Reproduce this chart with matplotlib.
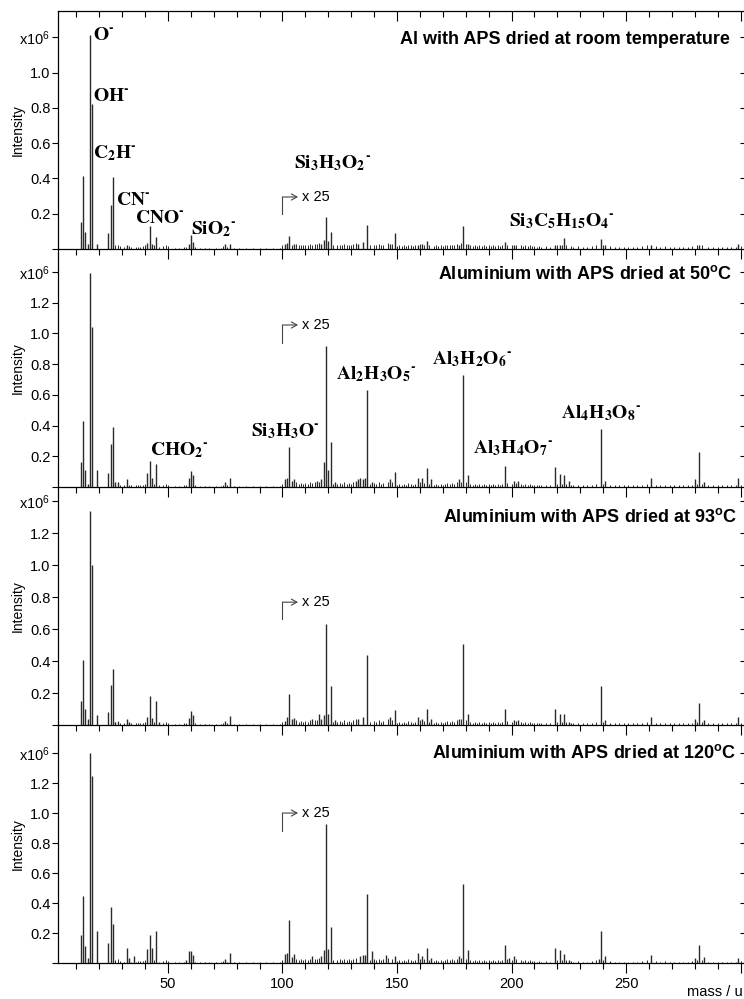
import matplotlib
matplotlib.use("Agg")
import matplotlib.pyplot as plt
from matplotlib.ticker import MultipleLocator, FuncFormatter

plt.rcParams['font.family'] = ['Liberation Sans', 'DejaVu Sans']
plt.rcParams['mathtext.fontset'] = 'custom'
plt.rcParams['mathtext.rm'] = 'Liberation Sans'
plt.rcParams['mathtext.bf'] = 'Liberation Sans:bold'
plt.rcParams['mathtext.it'] = 'Liberation Sans:italic'

# ---- data (intensity in units of 1e6, masses above 100 shown x25) ----
titles = ['Al with APS dried at room temperature',
          r'Aluminium with APS dried at 50$^{\mathbf{o}}$C',
          r'Aluminium with APS dried at 93$^{\mathbf{o}}$C',
          r'Aluminium with APS dried at 120$^{\mathbf{o}}$C']

p1_mass = [12, 13, 14, 15, 16, 17, 19, 24, 25, 26, 32, 41, 42, 43, 45, 59, 60, 61, 75, 77,
           101, 102, 103, 105, 117, 118, 119, 120, 121, 133, 135, 137, 147, 149, 159, 161,
           163, 177, 179, 181, 197, 201, 219, 221, 223, 239, 241, 261, 282, 299]
p1_int = [0.155, 0.415, 0.095, 0.03, 1.215, 0.82, 0.03, 0.09, 0.25, 0.41, 0.02, 0.035, 0.13,
          0.03, 0.07, 0.03, 0.08, 0.04, 0.03, 0.03,
          0.03, 0.035, 0.075, 0.03, 0.03, 0.05, 0.18, 0.045, 0.095, 0.03, 0.04, 0.135, 0.03,
          0.09, 0.025, 0.03, 0.045, 0.025, 0.13, 0.03, 0.04, 0.02, 0.02, 0.02, 0.065, 0.055,
          0.02, 0.02, 0.02, 0.03]

p2_mass = [12, 13, 14, 15, 16, 17, 19, 24, 25, 26, 27, 28, 32, 41, 42, 43, 45, 59, 60, 61,
           75, 77, 101, 102, 103, 104, 105, 115, 117, 118, 119, 120, 121, 123, 132, 133, 134,
           135, 136, 137, 139, 147, 149, 159, 161, 163, 165, 177, 179, 181, 197, 201, 203,
           219, 221, 223, 225, 239, 241, 261, 280, 282, 284, 299]
p2_int = [0.16, 0.43, 0.11, 0.02, 1.396, 1.044, 0.11, 0.09, 0.28, 0.39, 0.03, 0.03, 0.055,
          0.09, 0.17, 0.06, 0.15, 0.06, 0.105, 0.08,
          0.03, 0.06, 0.05, 0.06, 0.26, 0.04, 0.05, 0.04, 0.05, 0.16, 0.92, 0.11, 0.295, 0.03,
          0.04, 0.05, 0.06, 0.05, 0.06, 0.63, 0.03, 0.05, 0.10, 0.06, 0.06, 0.126, 0.05, 0.05,
          0.73, 0.08, 0.14, 0.04, 0.04, 0.13, 0.085, 0.08, 0.04, 0.375, 0.04, 0.06, 0.05,
          0.225, 0.03, 0.06]

p3_mass = [12, 13, 14, 15, 16, 17, 19, 24, 25, 26, 27, 28, 32, 33, 41, 42, 43, 45, 46, 59,
           60, 61, 75, 77, 101, 102, 103, 104, 105, 113, 116, 117, 118, 119, 120, 121, 123,
           133, 135, 137, 147, 149, 159, 161, 163, 165, 177, 179, 181, 197, 201, 203, 219,
           221, 223, 225, 239, 241, 261, 280, 282, 284, 299]
p3_int = [0.15, 0.41, 0.10, 0.04, 1.34, 1.0, 0.06, 0.083, 0.25, 0.35, 0.02, 0.02, 0.04,
          0.02, 0.05, 0.18, 0.045, 0.15, 0.02, 0.045,
          0.09, 0.06, 0.025, 0.055, 0.025, 0.05, 0.195, 0.04, 0.045, 0.04, 0.07, 0.04, 0.06,
          0.635, 0.07, 0.245, 0.03, 0.04, 0.05, 0.44, 0.05, 0.095, 0.05, 0.04, 0.1, 0.04,
          0.04, 0.51, 0.07, 0.1, 0.03, 0.03, 0.1, 0.07, 0.07, 0.02, 0.245, 0.03, 0.05, 0.035,
          0.135, 0.03, 0.05]

p4_mass = [12, 13, 14, 15, 16, 17, 19, 24, 25, 26, 32, 33, 35, 41, 42, 43, 45, 58, 59, 60,
           61, 75, 77, 101, 102, 103, 104, 105, 113, 117, 118, 119, 120, 121, 134, 135, 136,
           137, 139, 145, 149, 159, 161, 163, 165, 177, 179, 181, 197, 199, 201, 219, 221,
           223, 225, 238, 239, 241, 261, 280, 282, 284, 299]
p4_int = [0.187, 0.447, 0.113, 0.035, 1.40, 1.25, 0.213, 0.133, 0.373, 0.262, 0.1, 0.033,
          0.044, 0.093, 0.19, 0.1, 0.215, 0.02, 0.08, 0.08,
          0.055, 0.03, 0.067, 0.062, 0.067, 0.29, 0.04, 0.06, 0.05, 0.044, 0.084, 0.93, 0.093,
          0.24, 0.05, 0.055, 0.055, 0.46, 0.082, 0.055, 0.05, 0.067, 0.05, 0.1, 0.033, 0.05,
          0.53, 0.09, 0.12, 0.033, 0.05, 0.1, 0.084, 0.062, 0.02, 0.027, 0.215, 0.05, 0.055,
          0.033, 0.122, 0.04, 0.033]

# low-level background peaks shared by all spectra
bg_lo_mass = [27, 28, 29, 31, 33, 34, 36, 37, 38, 39, 40, 44, 46, 48, 49, 50, 53, 55, 57, 58,
              62, 64, 66, 68, 71, 73, 74, 76, 79, 81, 84, 87, 90, 93, 96, 99]
bg_lo_int = [0.02, 0.025, 0.015, 0.01, 0.015, 0.01, 0.01, 0.012, 0.012, 0.015, 0.02, 0.02,
             0.01, 0.015, 0.02, 0.015, 0.008, 0.008, 0.01, 0.012, 0.01, 0.008, 0.006, 0.006,
             0.006, 0.008, 0.015, 0.01, 0.006, 0.006, 0.006, 0.006, 0.006, 0.006, 0.006, 0.008]
bg_hi_mass = [100, 104, 106, 107, 108, 109, 110, 111, 112, 113, 114, 115, 116,
              122, 124, 125, 126, 127, 128, 129, 130, 131, 132,
              138, 140, 141, 142, 143, 144, 146, 148,
              150, 151, 152, 153, 154, 155, 156, 157, 158, 160, 162, 164, 166, 167, 168, 169,
              170, 171, 172, 173, 174, 175, 176, 178, 180, 182, 183, 184, 185, 186, 187, 188, 189,
              190, 191, 192, 193, 194, 195, 196, 198, 200, 202, 204, 205, 206, 207, 208, 209,
              210, 211, 212, 213, 215, 217, 220, 222, 224, 226, 227, 229,
              231, 233, 235, 237, 240, 243, 245, 247, 249,
              251, 253, 255, 257, 259, 263, 265, 267, 269,
              271, 273, 275, 277, 279, 281, 283, 286, 288, 290, 292, 294, 296, 298, 300]
bg_hi_int = [0.02, 0.025, 0.03, 0.02, 0.025, 0.02, 0.025, 0.02, 0.03, 0.025, 0.03, 0.03, 0.035,
             0.02, 0.02, 0.025, 0.02, 0.03, 0.02, 0.025, 0.02, 0.03, 0.035,
             0.02, 0.025, 0.02, 0.03, 0.02, 0.025, 0.035, 0.03,
             0.015, 0.02, 0.015, 0.02, 0.015, 0.025, 0.02, 0.015, 0.02, 0.03, 0.025, 0.02,
             0.015, 0.02, 0.015, 0.02,
             0.015, 0.02, 0.025, 0.02, 0.025, 0.02, 0.03, 0.035, 0.03, 0.02, 0.015, 0.02,
             0.015, 0.02, 0.015, 0.02, 0.015,
             0.02, 0.015, 0.02, 0.015, 0.02, 0.015, 0.02, 0.025, 0.02, 0.025, 0.02, 0.015,
             0.02, 0.015, 0.02, 0.015,
             0.015, 0.01, 0.015, 0.01, 0.015, 0.01, 0.02, 0.02, 0.02, 0.015, 0.01, 0.015,
             0.01, 0.01, 0.015, 0.02, 0.02, 0.015, 0.01, 0.01, 0.01,
             0.01, 0.01, 0.01, 0.015, 0.02, 0.015, 0.01, 0.015, 0.01,
             0.01, 0.01, 0.01, 0.01, 0.015, 0.02, 0.02, 0.01, 0.01, 0.01, 0.01, 0.01, 0.01,
             0.01, 0.015]

# peak labels: (text, mass at left edge, intensity at baseline); superscript is a short hyphen
HY = '\u2010'
p1_labels = [(r'$\mathbf{O^{%s}}$' % HY, 17.2, 1.188), (r'$\mathbf{OH^{%s}}$' % HY, 17.2, 0.842),
             (r'$\mathbf{C_2H^{%s}}$' % HY, 17.2, 0.514), (r'$\mathbf{CN^{%s}}$' % HY, 27.3, 0.248),
             (r'$\mathbf{CNO^{%s}}$' % HY, 35.6, 0.146), (r'$\mathbf{SiO_2{}^{%s}}$' % HY, 60.0, 0.083),
             (r'$\mathbf{Si_3H_3O_2{}^{%s}}$' % HY, 105.0, 0.457),
             (r'$\mathbf{Si_3C_5H_{15}O_4{}^{%s}}$' % HY, 198.9, 0.129)]
p2_labels = [(r'$\mathbf{CHO_2{}^{%s}}$' % HY, 42.1, 0.206),
             (r'$\mathbf{Si_3H_3O^{%s}}$' % HY, 86.2, 0.330),
             (r'$\mathbf{Al_2H_3O_5{}^{%s}}$' % HY, 123.4, 0.70),
             (r'$\mathbf{Al_3H_2O_6{}^{%s}}$' % HY, 165.3, 0.80),
             (r'$\mathbf{Al_3H_4O_7{}^{%s}}$' % HY, 183.2, 0.22),
             (r'$\mathbf{Al_4H_3O_8{}^{%s}}$' % HY, 221.6, 0.448)]

panels = [(p1_mass, p1_int, p1_labels), (p2_mass, p2_int, p2_labels),
          (p3_mass, p3_int, []), (p4_mass, p4_int, [])]
y_top = [1.35, 1.55, 1.49, 1.587]
y_ticks = [[0, 0.2, 0.4, 0.6, 0.8, 1.0, 1.2],
           [0, 0.2, 0.4, 0.6, 0.8, 1.0, 1.2, 1.4],
           [0, 0.2, 0.4, 0.6, 0.8, 1.0, 1.2, 1.4],
           [0, 0.2, 0.4, 0.6, 0.8, 1.0, 1.2, 1.4]]
# "x 25" bracket: (low, high) intensity
zoom_mark = [(0.198, 0.295), (0.938, 1.055), (0.6625, 0.769), (0.88, 1.0)]
title_pos = [(0.9796, 0.860), (0.982, 0.872), (0.99, 0.851), (0.988, 0.860)]

W, H = 744, 999
fig = plt.figure(figsize=(W / 100, H / 100), dpi=100)
line_col = '#2a2a2a'
xfmt = FuncFormatter(lambda v, pos: '' if v >= 300 or v <= 0 else '%d' % v)

for i, (mass, inten, labels) in enumerate(panels):
    assert len(mass) == len(inten)
    bottom = (H - 963 + (3 - i) * 238) / H
    ax = fig.add_axes([58 / W, bottom, (W - 58) / W, 238 / H])
    ax.patch.set_visible(False)

    ax.vlines(bg_lo_mass + bg_hi_mass, 0, bg_lo_int + bg_hi_int, color=line_col, lw=0.7)
    ax.vlines(mass, 0, inten, color=line_col, lw=1.0)

    ax.set_xlim(2, 301.5)
    ax.set_ylim(0, y_top[i])

    ax.spines['right'].set_visible(False)
    ax.spines['top'].set_visible(i == 0)
    for s in ('left', 'bottom', 'top'):
        ax.spines[s].set_linewidth(0.9)

    ax.xaxis.set_major_locator(MultipleLocator(50))
    ax.xaxis.set_minor_locator(MultipleLocator(10))
    ax.xaxis.set_major_formatter(xfmt)
    ax.tick_params(axis='x', which='major', direction='out', length=7, width=0.8,
                   labelsize=10.5, pad=3, labelbottom=(i == 3))
    ax.tick_params(axis='x', which='minor', direction='out', length=4, width=0.8)

    yt = y_ticks[i]
    ax.set_yticks(yt)
    ax.set_yticklabels([''] + ['%.1f' % v for v in yt[1:-1]] + [r'x10$^{6}$'])
    ax.tick_params(axis='y', direction='out', length=4.5, width=0.8, labelsize=10.5, pad=1)

    sec_y = ax.secondary_yaxis('right')
    sec_y.set_yticks(yt[1:])
    sec_y.tick_params(direction='in', length=3, width=0.8, labelright=False)
    sec_y.spines['right'].set_visible(False)

    if i == 0:
        sec_x = ax.secondary_xaxis('top')
        sec_x.xaxis.set_major_locator(MultipleLocator(50))
        sec_x.xaxis.set_minor_locator(MultipleLocator(10))
        sec_x.tick_params(axis='x', which='major', direction='in', length=7, width=0.8,
                          labeltop=False)
        sec_x.tick_params(axis='x', which='minor', direction='in', length=4, width=0.8)
        sec_x.spines['top'].set_visible(False)

    ax.set_ylabel('Intensity', fontsize=10)
    ax.yaxis.set_label_coords(-0.048, 0.5)

    tx, ty = title_pos[i]
    ax.text(tx, ty, titles[i], transform=ax.transAxes, ha='right', va='baseline',
            fontsize=13, fontweight='bold')

    for txt, m, v in labels:
        ax.text(m, v, txt, ha='left', va='baseline', fontsize=14, math_fontfamily='stix')

    lo, hi = zoom_mark[i]
    ax.plot([100, 100], [lo, hi], color='#444444', lw=0.8)
    ax.annotate('', xy=(106.8, hi), xytext=(100, hi),
                arrowprops=dict(arrowstyle='->,head_length=0.4,head_width=0.22',
                                color='#444444', lw=0.8, shrinkA=0, shrinkB=0))
    ax.text(108.5, hi, 'x 25', ha='left', va='center', fontsize=10.5)

fig.text(743 / W, 1 - 992 / H, 'mass / u', ha='right', va='center', fontsize=10.5)

fig.savefig('out.png', dpi=100)
